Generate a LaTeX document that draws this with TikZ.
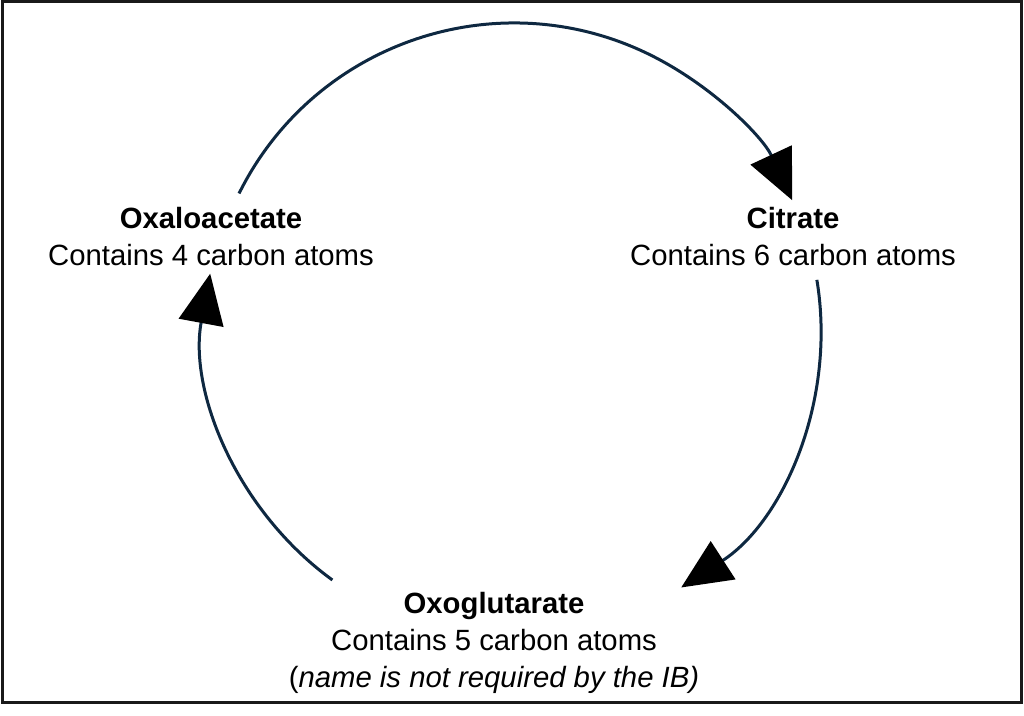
\documentclass[tikz,border=0pt]{standalone}
\usepackage{fontspec}
\setmainfont{Liberation Sans}
\usetikzlibrary{arrows.meta,calc}
\definecolor{arcnavy}{HTML}{0E2841}
\begin{document}
\begin{tikzpicture}[x=1pt,y=1pt,
  cyc/.style={draw=arcnavy, line width=3pt,
    -{Triangle[length=50pt,width=45pt,color=black]}},
  lbl/.style={align=center, inner sep=0pt, text=black,
    font=\fontsize{29.3}{37}\selectfont}]
\useasboundingbox (0,0) rectangle (1024,715);
\draw[line width=3pt, draw=black!90] (2,13) rectangle (1021,713);
\coordinate (c) at (514,385);
\node[lbl] (oxa) at (211,478.5) {\textbf{Oxaloacetate}\\Contains 4 carbon atoms};
\node[lbl] (cit) at (793,478.5) {\textbf{Citrate}\\Contains 6 carbon atoms};
\node[lbl] (oxo) at (494,72) {\textbf{Oxoglutarate}\\Contains 5 carbon atoms\\(\textit{name is not required by the IB)}};
\coordinate (s1) at ($(c)+(153.6:307)$);
\coordinate (s2) at ($(c)+(9.4:307)$);
\coordinate (s3) at ($(c)+(234:309)$);
\draw[cyc] (s1) arc[start angle=153.6, end angle=25, radius=307];
\draw[cyc] (s2) arc[start angle=9.4, end angle=-57, radius=307];
\draw[cyc] (s3) arc[start angle=234, end angle=169.5, radius=309];
\end{tikzpicture}
\end{document}
